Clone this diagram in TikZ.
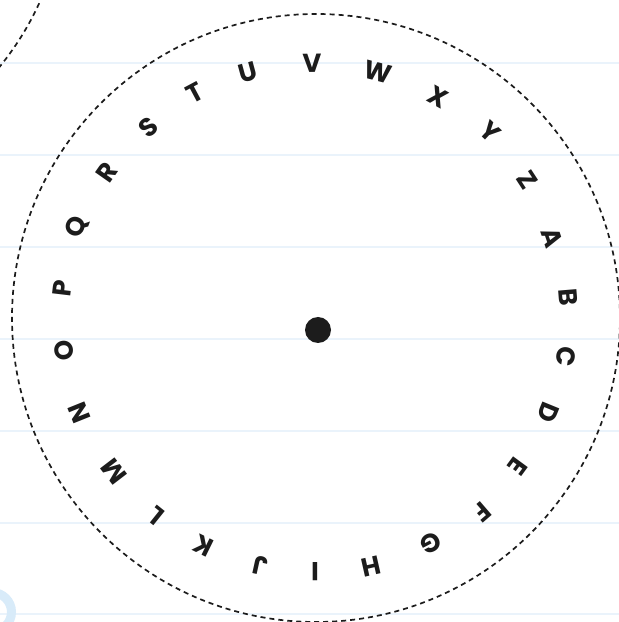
\documentclass[tikz,border=0pt]{standalone}
\usepackage{fontspec}
\setmainfont{Poppins}
\definecolor{ink}{HTML}{1C1C1C}
\definecolor{rule}{HTML}{EAF3FB}
\definecolor{ringblue}{HTML}{D8EBF9}
\begin{document}
\begin{tikzpicture}[x=1pt,y=1pt,
  letter/.style={font=\fontsize{26}{26}\selectfont\bfseries, text=ink, inner sep=0pt},
  cutline/.style={draw=ink, line width=1.7pt, dash pattern=on 5pt off 4pt},
  ruleline/.style={draw=rule, line width=2pt}]
\useasboundingbox (0,0) rectangle (619,622);
\clip (0,0) rectangle (619,622);
\fill[white] (0,0) rectangle (619,622);
\foreach \y in {63,155,247,339,431,523,614} {
  \draw[ruleline] (0,{622-\y}) -- (619,{622-\y});
}
% partial ring bottom-left
\draw[ringblue, line width=9pt] (-8,10) circle (19.5);
% neighbouring wheel arc (top-left)
\draw[cutline] (-230,742) circle (296);
% main wheel outline
\draw[cutline] (316,304) circle (304);
% centre pin
\fill[ink] (318,292) circle (13);
% letters (pixel positions of the reference)
\foreach \L/\px/\py in {S/148/127,T/195/93,U/248/72,V/312/63,W/378/72,X/438/97,
  Y/490/132,Z/527/180,A/552/238,B/568/297,C/566/357,D/548/413,E/518/467,
  F/482/512,G/431/543,H/371/566,I/315/572,J/260/566,K/203/546,L/156/516,
  M/114/472,N/79/413,O/64/351,P/62/288,Q/77/227,R/107/172} {
  \pgfmathsetmacro\a{atan2(318-\py,\px-315)}
  \node[letter, rotate=\a-90] (l\L) at (\px,{622-\py}) {\L};
}
\end{tikzpicture}
\end{document}
